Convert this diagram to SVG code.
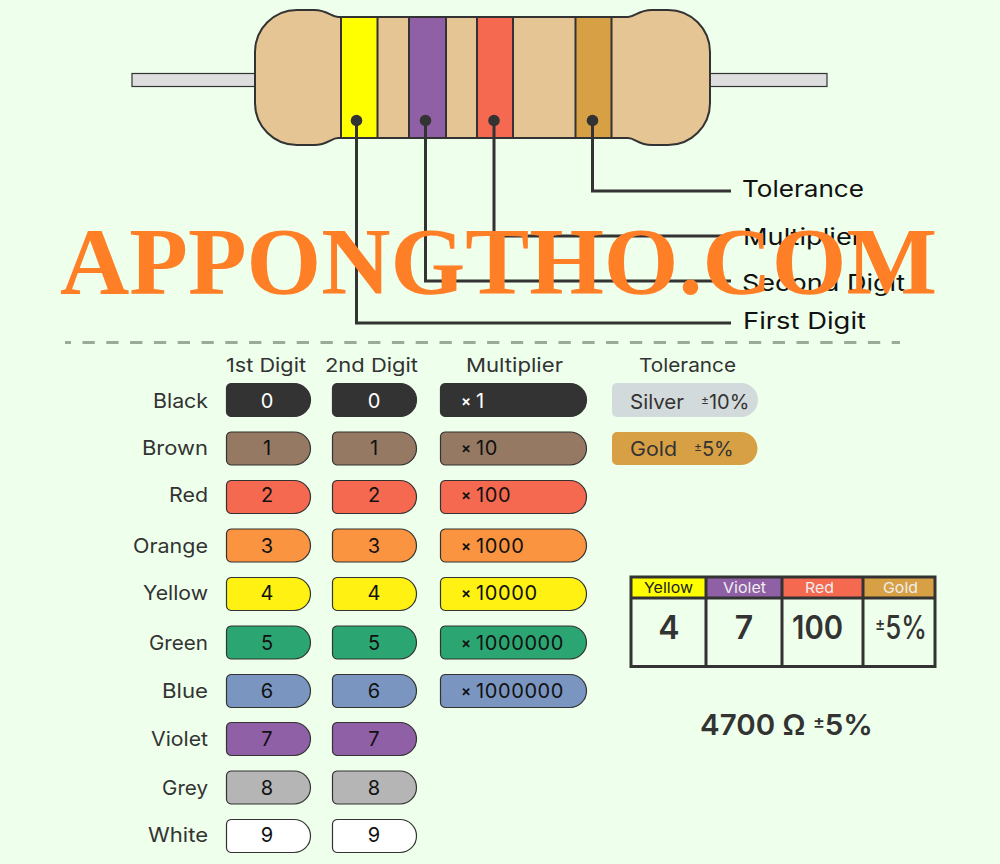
<svg xmlns="http://www.w3.org/2000/svg" width="1000" height="864" viewBox="0 0 1000 864">
<defs>
<path id="pd" d="M5 0.5H68A16.5 16.5 0 0 1 68 33.5H5A5 5 0 0 1 0.5 28.5V5A5 5 0 0 1 5 0.5Z"/>
<path id="pm" d="M5 0.5H130A16.5 16.5 0 0 1 130 33.5H5A5 5 0 0 1 0.5 28.5V5A5 5 0 0 1 5 0.5Z"/>
</defs>
<style>
text{font-family:"Inter","Noto Sans","Liberation Sans",sans-serif;fill:#333}
.o{stroke:#333;stroke-width:2}
.t{stroke:#333;stroke-width:1.2}
.w{stroke:#333;stroke-width:3;fill:none}
.lab{font-size:23px;fill:#111}
.hd{font-size:19px;text-anchor:middle}
.nm{font-size:20px;text-anchor:end}
.n{font-size:20px;text-anchor:middle;fill:#111}
.m{font-size:20px;fill:#111;letter-spacing:.6px}
.x{font-size:15px;font-weight:600}
.pm{font-size:60%}
.th{font-size:15px;text-anchor:middle}
.td{font-size:32px;font-weight:600;text-anchor:middle}
.k{fill:#333}.br{fill:#967963}.r{fill:#f56951}.or{fill:#fb9440}.y{fill:#fff212}.g{fill:#2ba672}.bl{fill:#7a95c0}.v{fill:#8f60a5}.gr{fill:#b5b5b5}.wh{fill:#fff}
</style>
<rect width="1000" height="864" fill="#eeffeb"/>
<g id="resistor">
<rect x="132" y="73.500" width="123" height="13" fill="#dedede" stroke="#333" stroke-width="1.2"/>
<rect x="710" y="73.500" width="117" height="13" fill="#dedede" stroke="#333" stroke-width="1.2"/>
<path d="M338 17H628C635 17 638 10 652 10H668A42 42 0 0 1 710 52V103A42 42 0 0 1 668 145H652C638 145 635 138 628 138H338C331 138 328 145 314 145H297A42 42 0 0 1 255 103V52A42 42 0 0 1 297 10H314C328 10 331 17 338 17Z" fill="#e6c594" stroke="#333" stroke-width="2"/>
<rect id="band1" class="o" x="341" y="17" width="36.500" height="121" fill="#ffff00"/>
<rect id="band2" class="o" x="409" y="17" width="37" height="121" fill="#8f60a5"/>
<rect id="band3" class="o" x="477" y="17" width="36" height="121" fill="#f56951"/>
<rect id="band4" class="o" x="575.500" y="17" width="36" height="121" fill="#d8a045"/>
</g>
<g id="connectors" fill="none" stroke="#333" stroke-width="3">
<path d="M592.500 120V191H731"/>
<path d="M494 120V236H731"/>
<path d="M425.500 120V281H731"/>
<path d="M356.500 120V323H731"/>
<g fill="#333" stroke="none">
<circle cx="592.500" cy="120.500" r="5.800"/>
<circle cx="494" cy="120.500" r="5.800"/>
<circle cx="425.500" cy="120.500" r="5.800"/>
<circle cx="356.500" cy="120.500" r="5.800"/>
</g>
</g>
<g id="callouts">
<text class="lab" x="742" y="197" textLength="122" lengthAdjust="spacingAndGlyphs">Tolerance</text>
<text class="lab" x="743" y="244.500" textLength="119" lengthAdjust="spacingAndGlyphs">Multiplier</text>
<text class="lab" x="742" y="290.500" textLength="163" lengthAdjust="spacingAndGlyphs">Second Digit</text>
<text class="lab" x="743" y="328.500" textLength="123" lengthAdjust="spacingAndGlyphs">First Digit</text>
</g>
<line id="divider" x1="65" y1="342.500" x2="900" y2="342.500" stroke="#9aab9a" stroke-width="3" stroke-dasharray="12.300 11.500" stroke-dashoffset="6.300"/>
<g id="headers">
<text class="hd" x="266" y="372" textLength="80" lengthAdjust="spacingAndGlyphs">1st Digit</text>
<text class="hd" x="371.500" y="372" textLength="93" lengthAdjust="spacingAndGlyphs">2nd Digit</text>
<text class="hd" x="514.500" y="372" textLength="97" lengthAdjust="spacingAndGlyphs">Multiplier</text>
<text class="hd" x="687.500" y="372" textLength="97" lengthAdjust="spacingAndGlyphs">Tolerance</text>
</g>
<g id="names">
<text class="nm" x="208" y="408" textLength="55" lengthAdjust="spacingAndGlyphs">Black</text>
<text class="nm" x="208" y="455" textLength="66" lengthAdjust="spacingAndGlyphs">Brown</text>
<text class="nm" x="208" y="502" textLength="39" lengthAdjust="spacingAndGlyphs">Red</text>
<text class="nm" x="208" y="553" textLength="75" lengthAdjust="spacingAndGlyphs">Orange</text>
<text class="nm" x="208" y="600" textLength="65" lengthAdjust="spacingAndGlyphs">Yellow</text>
<text class="nm" x="208" y="650" textLength="59" lengthAdjust="spacingAndGlyphs">Green</text>
<text class="nm" x="208" y="698" textLength="46" lengthAdjust="spacingAndGlyphs">Blue</text>
<text class="nm" x="208" y="746" textLength="57" lengthAdjust="spacingAndGlyphs">Violet</text>
<text class="nm" x="208" y="795" textLength="46" lengthAdjust="spacingAndGlyphs">Grey</text>
<text class="nm" x="208" y="842" textLength="60" lengthAdjust="spacingAndGlyphs">White</text>
</g>
<g id="row-black"><use href="#pd" x="226" y="383" class="k t"/><use href="#pd" x="332" y="383" class="k t"/><use href="#pm" x="440" y="383" class="k t"/><text class="n" x="267" y="408" style="fill:#fff">0</text><text class="n" x="374" y="408" style="fill:#fff">0</text><text class="m" x="461" y="408" style="fill:#fff"><tspan class="x" dy="-2" style="fill:#fff">×</tspan> <tspan x="476" dy="2">1</tspan></text></g>
<g id="row-brown"><use href="#pd" x="226" y="431.500" class="br t"/><use href="#pd" x="332" y="431.500" class="br t"/><use href="#pm" x="440" y="431.500" class="br t"/><text class="n" x="267" y="455">1</text><text class="n" x="374" y="455">1</text><text class="m" x="461" y="455"><tspan class="x" dy="-2">×</tspan> <tspan x="476" dy="2">10</tspan></text></g>
<g id="row-red"><use href="#pd" x="226" y="480" class="r t"/><use href="#pd" x="332" y="480" class="r t"/><use href="#pm" x="440" y="480" class="r t"/><text class="n" x="267" y="502">2</text><text class="n" x="374" y="502">2</text><text class="m" x="461" y="502"><tspan class="x" dy="-2">×</tspan> <tspan x="476" dy="2">100</tspan></text></g>
<g id="row-orange"><use href="#pd" x="226" y="528.500" class="or t"/><use href="#pd" x="332" y="528.500" class="or t"/><use href="#pm" x="440" y="528.500" class="or t"/><text class="n" x="267" y="553">3</text><text class="n" x="374" y="553">3</text><text class="m" x="461" y="553"><tspan class="x" dy="-2">×</tspan> <tspan x="476" dy="2">1000</tspan></text></g>
<g id="row-yellow"><use href="#pd" x="226" y="577" class="y t"/><use href="#pd" x="332" y="577" class="y t"/><use href="#pm" x="440" y="577" class="y t"/><text class="n" x="267" y="600">4</text><text class="n" x="374" y="600">4</text><text class="m" x="461" y="600"><tspan class="x" dy="-2">×</tspan> <tspan x="476" dy="2">10000</tspan></text></g>
<g id="row-green"><use href="#pd" x="226" y="625.500" class="g t"/><use href="#pd" x="332" y="625.500" class="g t"/><use href="#pm" x="440" y="625.500" class="g t"/><text class="n" x="267" y="650">5</text><text class="n" x="374" y="650">5</text><text class="m" x="461" y="650"><tspan class="x" dy="-2">×</tspan> <tspan x="476" dy="2">1000000</tspan></text></g>
<g id="row-blue"><use href="#pd" x="226" y="674" class="bl t"/><use href="#pd" x="332" y="674" class="bl t"/><use href="#pm" x="440" y="674" class="bl t"/><text class="n" x="267" y="698">6</text><text class="n" x="374" y="698">6</text><text class="m" x="461" y="698"><tspan class="x" dy="-2">×</tspan> <tspan x="476" dy="2">1000000</tspan></text></g>
<g id="row-violet"><use href="#pd" x="226" y="722" class="v t"/><use href="#pd" x="332" y="722" class="v t"/><text class="n" x="267" y="746">7</text><text class="n" x="374" y="746">7</text></g>
<g id="row-grey"><use href="#pd" x="226" y="770.500" class="gr t"/><use href="#pd" x="332" y="770.500" class="gr t"/><text class="n" x="267" y="795">8</text><text class="n" x="374" y="795">8</text></g>
<g id="row-white"><use href="#pd" x="226" y="819" class="wh t"/><use href="#pd" x="332" y="819" class="wh t"/><text class="n" x="267" y="842">9</text><text class="n" x="374" y="842">9</text></g>
<g id="tolerance-silver"><path d="M617 383H741A17 17 0 0 1 741 417H617A5 5 0 0 1 612 412V388A5 5 0 0 1 617 383Z" fill="#d3dadb"/><text x="630" y="409" font-size="20" textLength="54" lengthAdjust="spacingAndGlyphs">Silver</text><text x="701" y="409" font-size="20"><tspan class="pm" dy="-5">±</tspan><tspan dy="5">10%</tspan></text></g>
<g id="tolerance-gold"><path d="M617 432H741A16.500 16.500 0 0 1 741 465H617A5 5 0 0 1 612 460V437A5 5 0 0 1 617 432Z" fill="#d8a045"/><text x="630" y="456" font-size="20" textLength="47" lengthAdjust="spacingAndGlyphs">Gold</text><text x="694" y="456" font-size="20"><tspan class="pm" dy="-5">±</tspan><tspan dy="5">5%</tspan></text></g>
<g id="example-table">
<rect x="632" y="578" width="74" height="19" fill="#ffff00"/>
<rect x="706" y="578" width="76" height="19" fill="#8f60a5"/>
<rect x="782" y="578" width="81" height="19" fill="#f56951"/>
<rect x="863" y="578" width="72" height="19" fill="#d8a045"/>
<path class="w" d="M631 577H935V666.500H631ZM631 598H935M706 577V666.500M782 577V666.500M863 577V666.500"/>
<text class="th" x="668.500" y="593" style="fill:#222" textLength="49" lengthAdjust="spacingAndGlyphs">Yellow</text>
<text class="th" x="744.500" y="593" style="fill:#eee" textLength="43" lengthAdjust="spacingAndGlyphs">Violet</text>
<text class="th" x="819.500" y="593" style="fill:#eee" textLength="29" lengthAdjust="spacingAndGlyphs">Red</text>
<text class="th" x="900.500" y="593" style="fill:#eee" textLength="35" lengthAdjust="spacingAndGlyphs">Gold</text>
<text class="td" x="669" y="638.500">4</text>
<text class="td" x="744" y="638.500">7</text>
<text class="td" x="817.500" y="638.500" textLength="51" lengthAdjust="spacingAndGlyphs">100</text>
<text class="td" x="901" y="638.500" style="font-weight:500" textLength="52" lengthAdjust="spacingAndGlyphs"><tspan class="pm" dy="-8">±</tspan><tspan dy="8">5%</tspan></text>
</g>
<text id="result" x="786.500" y="735" font-size="29" font-weight="600" text-anchor="middle" textLength="173" lengthAdjust="spacingAndGlyphs">4700 Ω <tspan class="pm" dy="-7">±</tspan><tspan dy="7">5%</tspan></text>
<text id="watermark" x="60" y="293.500" font-size="96" font-weight="700" style="font-family:'Liberation Serif',serif;fill:#ff7f27" textLength="877" lengthAdjust="spacingAndGlyphs">APPONGTHO.COM</text>
</svg>
